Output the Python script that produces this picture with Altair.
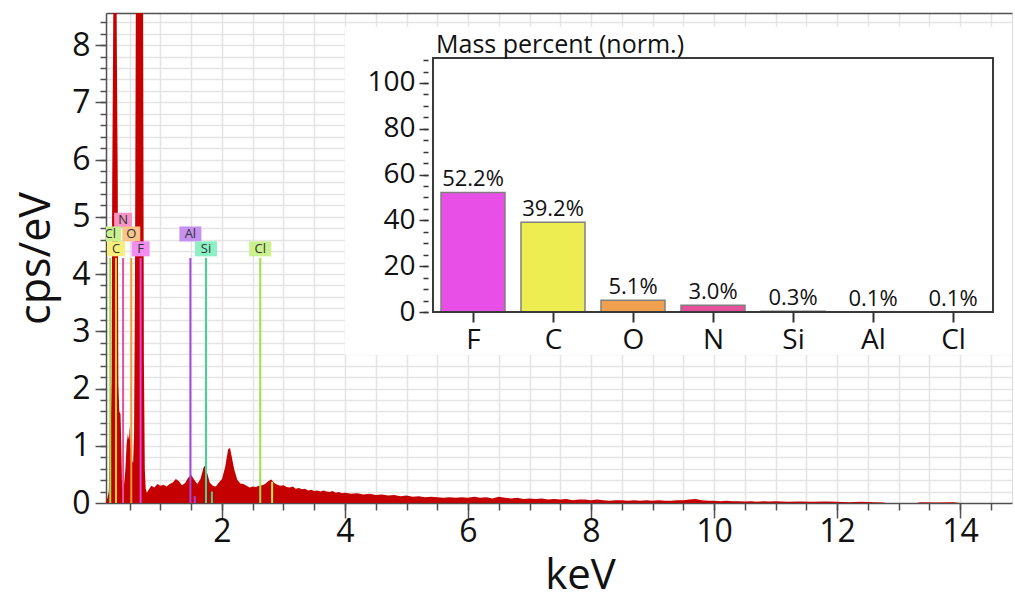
import altair as alt
import pandas as pd

# ---------------- spectrum (keV, cps/eV) ----------------
low_kev = [0.114, 0.14, 0.16, 0.175, 0.195, 0.205, 0.215, 0.23, 0.245, 0.26, 0.275,
           0.29, 0.305, 0.315, 0.33, 0.35, 0.365, 0.375, 0.39, 0.41, 0.43, 0.45,
           0.47, 0.49, 0.50, 0.515, 0.535, 0.555, 0.57, 0.585, 0.60, 0.62, 0.65,
           0.68, 0.70, 0.715, 0.73, 0.745, 0.76, 0.78]
low_cps = [0.0, 0.1, 0.2, 1.4, 1.5, 2.2, 5.6, 8.1, 10.5, 12.0, 11.0,
           8.0, 5.6, 2.1, 1.6, 1.55, 0.9, 0.3, 0.25, 0.35, 0.6, 1.05,
           1.2, 1.1, 1.35, 1.0, 0.75, 0.7, 1.2, 3.8, 9.0, 20.0, 30.0,
           32.0, 25.0, 10.0, 2.5, 0.6, 0.25, 0.18]

mid_kev = [0.80, 0.85, 0.90, 0.95, 1.00, 1.05, 1.10, 1.15, 1.20, 1.25, 1.30, 1.35,
           1.40, 1.45, 1.50, 1.55, 1.60, 1.65, 1.70, 1.73, 1.76, 1.80, 1.85, 1.90,
           1.95, 2.00, 2.05, 2.10, 2.13, 2.16, 2.20, 2.25, 2.30, 2.35, 2.40, 2.45,
           2.50, 2.55, 2.60, 2.65, 2.70, 2.75, 2.80, 2.85, 2.90, 2.95, 3.00, 3.05,
           3.10, 3.15, 3.20, 3.25, 3.30, 3.35, 3.40, 3.45, 3.50, 3.55, 3.60, 3.65,
           3.70, 3.75, 3.80, 3.85, 3.90, 3.95, 4.00]
mid_cps = [0.22, 0.30, 0.27, 0.33, 0.30, 0.32, 0.29, 0.33, 0.36, 0.42, 0.38, 0.31,
           0.35, 0.44, 0.49, 0.40, 0.33, 0.42, 0.62, 0.66, 0.52, 0.36, 0.30, 0.29,
           0.36, 0.42, 0.62, 0.94, 0.96, 0.80, 0.58, 0.40, 0.34, 0.33, 0.30, 0.27,
           0.29, 0.28, 0.30, 0.31, 0.33, 0.38, 0.41, 0.35, 0.32, 0.30, 0.31, 0.28,
           0.27, 0.29, 0.25, 0.26, 0.24, 0.25, 0.22, 0.23, 0.21, 0.22, 0.20, 0.22,
           0.20, 0.19, 0.21, 0.18, 0.19, 0.17, 0.18]

high_kev = [4.1, 4.2, 4.3, 4.4, 4.5, 4.6, 4.7, 4.8, 4.9, 5.0, 5.1, 5.2, 5.3, 5.4,
            5.5, 5.6, 5.7, 5.8, 5.9, 6.0, 6.1, 6.2, 6.3, 6.4, 6.5, 6.6, 6.7, 6.8,
            6.9, 7.0, 7.1, 7.2, 7.3, 7.4, 7.5, 7.6, 7.7, 7.8, 7.9, 8.0, 8.1, 8.2,
            8.3, 8.4, 8.5, 8.6, 8.7, 8.8, 8.9, 9.0, 9.1, 9.2, 9.3, 9.4, 9.5, 9.6,
            9.7, 9.8, 9.9, 10.0, 10.1, 10.2, 10.3, 10.4, 10.5, 10.6, 10.7, 10.8,
            10.9, 11.0, 11.2, 11.4, 11.6, 11.8, 12.0, 12.2, 12.4, 12.6, 12.75,
            12.8, 13.3, 13.35, 13.6, 13.9, 14.0, 14.845]
high_cps = [0.16, 0.17, 0.15, 0.16, 0.14, 0.15, 0.13, 0.14, 0.12, 0.13, 0.11, 0.12,
            0.10, 0.11, 0.10, 0.09, 0.10, 0.09, 0.10, 0.09, 0.11, 0.09, 0.10, 0.08,
            0.11, 0.09, 0.08, 0.09, 0.07, 0.08, 0.07, 0.08, 0.06, 0.07, 0.06, 0.07,
            0.05, 0.06, 0.06, 0.05, 0.06, 0.05, 0.04, 0.05, 0.05, 0.04, 0.05, 0.04,
            0.05, 0.04, 0.05, 0.04, 0.04, 0.05, 0.05, 0.06, 0.07, 0.05, 0.04, 0.04,
            0.03, 0.04, 0.03, 0.03, 0.025, 0.03, 0.02, 0.03, 0.025, 0.03, 0.02,
            0.025, 0.02, 0.025, 0.02, 0.015, 0.02, 0.015, 0.01, 0.0, 0.0, 0.012,
            0.01, 0.012, 0.0, 0.0]

# ---------------- element marker lines ----------------
line_elem = ["Cl", "C", "N", "O", "F", "Al", "Si", "Cl"]
line_kev = [0.183, 0.277, 0.392, 0.525, 0.677, 1.486, 1.740, 2.622]
line_top = [4.28, 4.28, 4.28, 4.28, 4.28, 4.28, 4.28, 4.28]
label_level = [4.70, 4.44, 4.94, 4.70, 4.44, 4.70, 4.44, 4.44]
line_color = ["#9be04a", "#d6d21e", "#e2529f", "#f09a3c", "#e043e0",
              "#a349e0", "#3fd693", "#9be04a"]
box_color = ["#c9f28f", "#f6ef7c", "#f393c6", "#f8c58a", "#f28df0",
             "#c791f0", "#8cf0c4", "#c9f28f"]

minor_kev = [1.557, 1.836, 2.815]
minor_top = [0.12, 0.20, 0.37]
minor_color = ["#a349e0", "#3fd693", "#c8e64a"]

# ---------------- inset: mass percent ----------------
elements = ["F", "C", "O", "N", "Si", "Al", "Cl"]
mass_pct = [52.2, 39.2, 5.1, 3.0, 0.3, 0.1, 0.1]
bar_colors = ["#e84fe6", "#eded52", "#f0a04e", "#e6509a", "#66dda8", "#b070e8", "#b8e860"]

# ---------------- layout constants ----------------
W, H = 906, 490
X0, X1 = 0.114, 14.845
Y1 = 8.56
FONT = "Open Sans"
AXC = "#505050"

spec = pd.DataFrame({"kev": low_kev + mid_kev + high_kev,
                     "cps": low_cps + mid_cps + high_cps})
lines = pd.DataFrame({"elem": line_elem, "kev": line_kev, "top": line_top,
                      "base": [0.0] * len(line_kev), "lvl": label_level,
                      "lc": line_color, "bc": box_color,
                      "two": [len(e) == 2 for e in line_elem]})
minor = pd.DataFrame({"kev": minor_kev, "top": minor_top,
                      "base": [0.0] * len(minor_kev), "lc": minor_color})
panel = pd.DataFrame({"x": [4.0], "x2": [X1], "y": [2.586], "y2": [8.32]})

xs = alt.Scale(domain=[X0, X1], nice=False, zero=False)
ys = alt.Scale(domain=[0, Y1], nice=False, zero=True)

x_major = alt.Axis(orient="bottom", values=list(range(2, 15, 2)), tickSize=15,
                   tickWidth=1.5, tickColor=AXC, domain=True, domainColor=AXC,
                   domainWidth=1.5, labelFontSize=32, labelColor="#111",
                   labelFont=FONT, labelPadding=-2, grid=False, title="keV",
                   titleFont=FONT, titleFontSize=42, titleFontWeight="normal",
                   titleColor="#111", titleX=474, titleY=85,
                   titleBaseline="alphabetic", titleAlign="center")
y_major = alt.Axis(orient="left", values=list(range(0, 9)), tickSize=11,
                   tickWidth=1.5, tickColor=AXC, domain=True, domainColor=AXC,
                   domainWidth=1.5, labelFontSize=32, labelColor="#111",
                   labelFont=FONT, labelPadding=5, grid=False, title="cps/eV",
                   titleFont=FONT, titleFontSize=43, titleFontWeight="normal",
                   titleColor="#111", titleX=-57, titleY=H / 2, titleAngle=270,
                   titleBaseline="alphabetic", titleAlign="center")
x_minor = alt.Axis(orient="bottom", values=[0.5 * k for k in range(1, 30)],
                   tickSize=7, tickWidth=1.5, tickColor=AXC, labels=False,
                   domain=False, grid=True, gridColor="#e4e4e4", gridWidth=1.5,
                   title=None)
y_minor = alt.Axis(orient="left", values=[round(0.2 * k, 1) for k in range(1, 43)],
                   tickSize=6, tickWidth=1.5, tickColor=AXC, labels=False,
                   domain=False, grid=True, gridColor="#e4e4e4", gridWidth=1.5,
                   title=None)
x_top = alt.Axis(orient="top", labels=False, ticks=False, domain=True,
                 domainColor=AXC, domainWidth=1.5, grid=False, title=None)

area = alt.Chart(spec).mark_area(color="#c40000", clip=True).encode(
    x=alt.X("kev:Q", scale=xs, axis=x_major),
    y=alt.Y("cps:Q", scale=ys, axis=y_major),
)
elines = alt.Chart(lines).mark_rule(strokeWidth=2, clip=True).encode(
    x=alt.X("kev:Q", scale=xs, axis=x_minor),
    y=alt.Y("base:Q", scale=ys, axis=y_minor),
    y2="top:Q",
    color=alt.Color("lc:N", scale=None),
)
mlines = alt.Chart(minor).mark_rule(strokeWidth=2).encode(
    x=alt.X("kev:Q", scale=xs, axis=None),
    y=alt.Y("base:Q", scale=ys, axis=None),
    y2="top:Q",
    color=alt.Color("lc:N", scale=None),
)
panel_l = alt.Chart(panel).mark_rect(color="white").encode(
    x=alt.X("x:Q", scale=xs, axis=x_top),
    x2="x2:Q",
    y=alt.Y("y:Q", scale=ys, axis=None),
    y2="y2:Q",
)
box1 = alt.Chart(lines).transform_filter("!datum.two").mark_rect(
    width=18, height=15, clip=True).encode(
    x=alt.X("kev:Q", scale=xs, axis=None),
    y=alt.Y("lvl:Q", scale=ys, axis=None),
    color=alt.Color("bc:N", scale=None),
)
box2 = alt.Chart(lines).transform_filter("datum.two").mark_rect(
    width=22, height=15, clip=True).encode(
    x=alt.X("kev:Q", scale=xs, axis=None),
    y=alt.Y("lvl:Q", scale=ys, axis=None),
    color=alt.Color("bc:N", scale=None),
)
box_txt = alt.Chart(lines).mark_text(fontSize=13, font=FONT, color="#333",
                                     clip=True).encode(
    x=alt.X("kev:Q", scale=xs, axis=None),
    y=alt.Y("lvl:Q", scale=ys, axis=None),
    text="elem:N",
)

main = alt.layer(area, elines, panel_l, mlines, box1, box2, box_txt).resolve_axis(
    x="independent", y="independent")

# ---------------- inset ----------------
IX0, IX1 = -0.5, 6.5
IY1 = 110.9
ins = pd.DataFrame({"idx": list(range(len(elements))), "elem": elements,
                    "pct": mass_pct, "col": bar_colors,
                    "lab": [f"{v:.1f}%" for v in mass_pct]})
frame = pd.DataFrame({"x": [IX0], "x2": [IX1], "y": [0.0], "y2": [IY1]})
ttl = pd.DataFrame({"x": [IX0], "y": [IY1], "t": ["Mass percent (norm.)"]})

ixs = alt.Scale(domain=[IX0, IX1], range=[322, 892], nice=False, zero=False)
iys = alt.Scale(domain=[0, IY1], range=[299, 45], nice=False, zero=True)

lab_expr = "[" + ",".join(f"'{e}'" for e in elements) + "][datum.value]"
ix_axis = alt.Axis(orient="bottom", offset=-191, values=list(range(len(elements))),
                   labelExpr=lab_expr, tickSize=10, tickWidth=2, tickColor="#333",
                   domain=False, labelFontSize=28, labelFont=FONT,
                   labelColor="#111", labelPadding=4, grid=False, title=None,
                   zindex=1)
iy_axis = alt.Axis(orient="left", offset=-322, values=list(range(0, 101, 20)),
                   tickSize=9, tickWidth=1.5, tickColor="#333", domain=False,
                   labelFontSize=28, labelFont=FONT, labelColor="#111",
                   labelPadding=4, grid=False, title=None, zindex=1)
iy_minor = alt.Axis(orient="left", offset=-322, values=list(range(0, 111, 5)),
                    tickSize=5, tickWidth=1.5, tickColor="#333", labels=False,
                    domain=False, grid=False, title=None, zindex=1)

bars = alt.Chart(ins).mark_bar(size=64, stroke="#808080", strokeWidth=1.5,
                               orient="vertical").encode(
    x=alt.X("idx:Q", scale=ixs, axis=ix_axis),
    y=alt.Y("pct:Q", scale=iys, axis=iy_axis, stack=None),
    color=alt.Color("col:N", scale=None),
)
bar_lab = alt.Chart(ins).mark_text(baseline="bottom", dy=-1, fontSize=22,
                                   font=FONT, color="#111").encode(
    x=alt.X("idx:Q", scale=ixs, axis=None),
    y=alt.Y("pct:Q", scale=iys, axis=iy_minor),
    text="lab:N",
)
frame_l = alt.Chart(frame).mark_rect(fillOpacity=0, stroke="#3a3a3a",
                                     strokeWidth=2).encode(
    x=alt.X("x:Q", scale=ixs, axis=None),
    x2="x2:Q",
    y=alt.Y("y:Q", scale=iys, axis=None),
    y2="y2:Q",
)
title_l = alt.Chart(ttl).mark_text(align="left", baseline="bottom", dx=3, dy=0,
                                   fontSize=25, font=FONT, color="#111").encode(
    x=alt.X("x:Q", scale=ixs, axis=None),
    y=alt.Y("y:Q", scale=iys, axis=None),
    text="t:N",
)

inset = alt.layer(bars, bar_lab, frame_l, title_l).resolve_axis(
    x="independent", y="independent")

chart = alt.layer(main, inset).resolve_scale(
    x="independent", y="independent"
).properties(
    width=W, height=H,
    autosize=alt.AutoSizeParams(type="none"),
    padding={"left": 106, "top": 13, "right": 3, "bottom": 97},
).configure_view(stroke=None).configure(font=FONT)

chart.save("out.html", embed_options={"renderer": "svg", "actions": False})
